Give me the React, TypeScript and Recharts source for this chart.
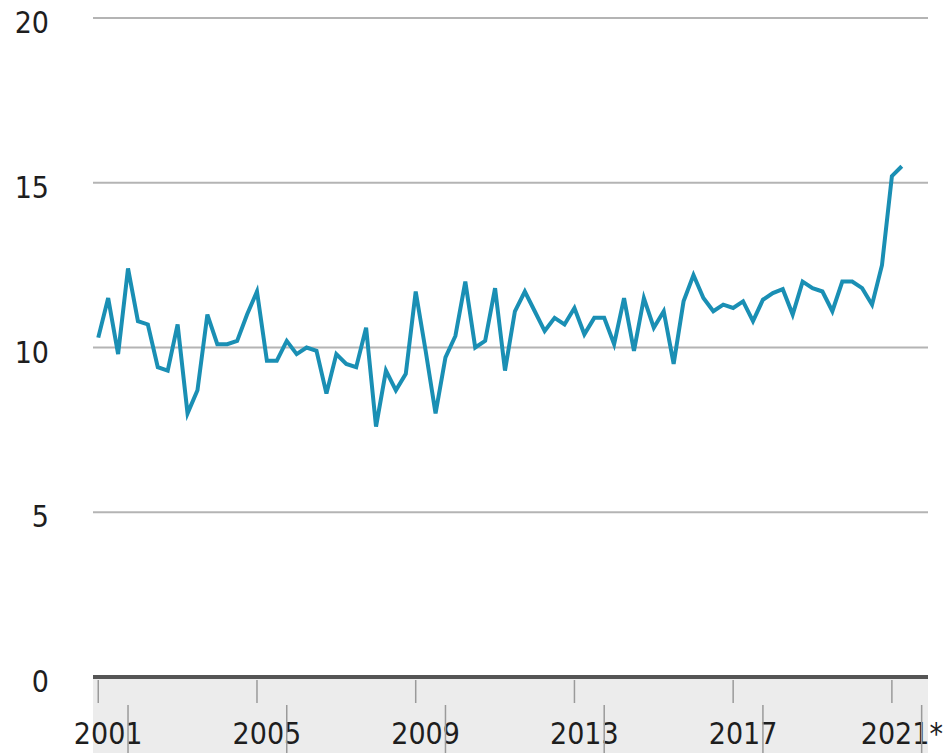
import React from 'react';
import { LineChart, Line, XAxis, YAxis, CartesianGrid } from 'recharts';

// Quarterly values, 2001 Q1 – 2021 Q2
const firstYear = 2001;
const values: number[] = [
  10.3, 11.5, 9.8, 12.4, 10.8, 10.7, 9.4, 9.3,
  10.7, 8.0, 8.7, 11.0, 10.1, 10.1, 10.2, 11.0,
  11.7, 9.6, 9.6, 10.2, 9.8, 10.0, 9.9, 8.6,
  9.8, 9.5, 9.4, 10.6, 7.6, 9.3, 8.7, 9.2,
  11.7, 9.9, 8.0, 9.7, 10.35, 12.0, 10.0, 10.2,
  11.8, 9.3, 11.1, 11.7, 11.1, 10.5, 10.9, 10.7,
  11.2, 10.4, 10.9, 10.9, 10.1, 11.5, 9.9, 11.5,
  10.6, 11.1, 9.5, 11.4, 12.2, 11.5, 11.1, 11.3,
  11.2, 11.4, 10.8, 11.45, 11.65, 11.77, 11.0, 12.0,
  11.8, 11.7, 11.1, 12.0, 12.0, 11.8, 11.3, 12.5,
  15.2, 15.5,
];
const yTicks = [0, 5, 10, 15, 20];
const labelYears = [2001, 2005, 2009, 2013, 2017, 2021];
const yearLabels = ['2001', '2005', '2009', '2013', '2017', '2021*'];

const data = values.map((v, i) => ({
  q: i,
  quarter: `${firstYear + Math.floor(i / 4)} Q${(i % 4) + 1}`,
  v,
}));
const yearStart = labelYears.map((y) => (y - firstYear) * 4);
const yearQ4 = yearStart.map((q) => q + 3);
const yearLabelPos = yearStart.map((q) => q + 1);
const allXTicks = [...yearStart, ...yearLabelPos, ...yearQ4].sort((a, b) => a - b);

const FONT = '"DejaVu Sans", sans-serif';
const TEXT = '#1e1e1e';

const YTick = (props: any) => (
  <text
    x={49}
    y={props.y + 15}
    textAnchor="end"
    fontFamily={FONT}
    fontStretch="condensed"
    fontSize={30}
    fill={TEXT}
  >
    {props.payload.value}
  </text>
);

const XTick = (props: any) => {
  const value = props.payload.value;
  const { x, y } = props;
  if (yearStart.includes(value)) {
    return <line x1={x} x2={x} y1={y + 3} y2={y + 26} stroke="#9a9a9a" strokeWidth={1.5} />;
  }
  if (yearQ4.includes(value)) {
    return <line x1={x} x2={x} y1={y + 28} y2={y + 80} stroke="#9a9a9a" strokeWidth={1.5} />;
  }
  const idx = yearLabelPos.indexOf(value);
  return (
    <text
      x={x}
      y={y + 67}
      textAnchor="middle"
      fontFamily={FONT}
      fontStretch="condensed"
      fontSize={30}
      fill={TEXT}
    >
      {yearLabels[idx]}
    </text>
  );
};

const domainX: [number, number] = [-0.53, 83.64];

export default function App() {
  return (
    <div style={{ position: 'absolute', left: 0, top: 0, width: 952, height: 753, background: '#fff' }}>
      <div style={{ position: 'absolute', left: 93, top: 679, width: 835, height: 74, background: '#ececec' }} />
      <div style={{ position: 'absolute', left: 0, top: 0 }}>
        <LineChart width={952} height={753} data={data} margin={{ top: 18, right: 24, bottom: 0, left: 0 }}>
          <CartesianGrid horizontal vertical={false} stroke="#b4b4b4" strokeWidth={2} />
          <YAxis
            domain={[0, 20]}
            ticks={yTicks}
            width={93}
            axisLine={false}
            tickLine={false}
            tick={<YTick />}
            interval={0}
          />
          <XAxis
            dataKey="q"
            type="number"
            domain={domainX}
            ticks={allXTicks}
            height={76}
            tickSize={0}
            tickMargin={0}
            axisLine={{ stroke: '#555', strokeWidth: 4 }}
            tickLine={false}
            tick={<XTick />}
            interval={0}
          />
          <Line
            type="linear"
            dataKey="v"
            stroke="#1a8fb4"
            strokeWidth={4}
            dot={false}
            isAnimationActive={false}
          />
        </LineChart>
      </div>
    </div>
  );
}
